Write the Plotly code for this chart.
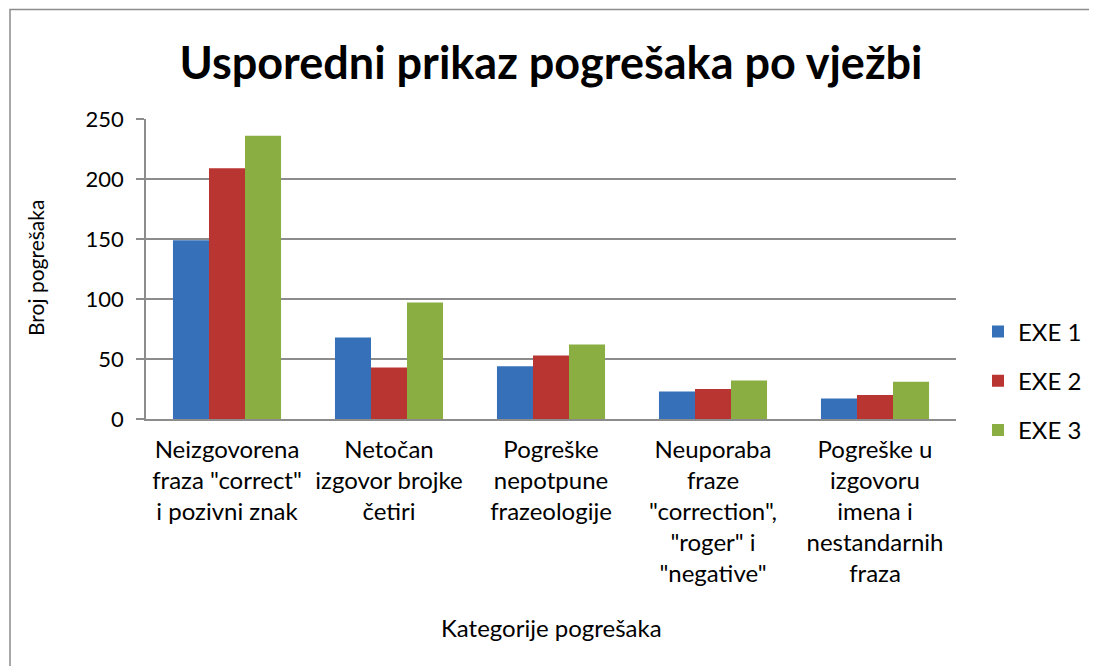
import plotly.graph_objects as go

categories = [
    "Neizgovorena<br>fraza \"correct\"<br>i pozivni znak",
    "Netočan<br>izgovor brojke<br>četiri",
    "Pogreške<br>nepotpune<br>frazeologije",
    "Neuporaba<br>fraze<br>\"correction\",<br>\"roger\" i<br>\"negative\"",
    "Pogreške u<br>izgovoru<br>imena i<br>nestandarnih<br>fraza",
]
exe1 = [149, 68, 44, 23, 17]
exe2 = [209, 43, 53, 25, 20]
exe3 = [236, 97, 62, 32, 31]
series_names = ["EXE 1", "EXE 2", "EXE 3"]
colors = ["#3570B8", "#B93532", "#8AAE41"]

FONT = "Lato"
W, H = 1097, 666
OFF = 8  # page body margin
# target plot area in screenshot pixels
L, R, T, B = 146, 956, 119, 419
l, t = L - OFF, T - OFF
pw, ph = R - L, B - T

def px(x):
    return (x - L) / pw
def py(y):
    return (B - y) / ph

fig = go.Figure()
for name, vals, c in zip(series_names, [exe1, exe2, exe3], colors):
    fig.add_trace(go.Bar(
        x=categories, y=vals, name=name, legendgroup=name,
        marker=dict(color=c, line=dict(width=0)),
    ))

fig.update_layout(
    width=W, height=H,
    margin=dict(l=l, r=W - l - pw, t=t, b=H - t - ph, pad=0),
    paper_bgcolor="white", plot_bgcolor="white",
    font=dict(family=FONT, size=24, color="#000000"),
    barmode="group", bargap=0.333, bargroupgap=0,
    title=dict(text="<b>Usporedni prikaz pogrešaka po vježbi</b>",
               x=0.5, xanchor="center", xref="paper",
               y=1 - (63 - OFF) / H, yanchor="middle",
               font=dict(family=FONT, size=45, color="#000000")),
    showlegend=True,
    legend=dict(x=px(978), xanchor="left", y=py(381), yanchor="middle",
                font=dict(family=FONT, size=24), tracegroupgap=15,
                itemwidth=30, bgcolor="rgba(0,0,0,0)"),
    xaxis=dict(
        showgrid=False, showline=True, linecolor="#8C8C8C", linewidth=1.5,
        ticks="", tickfont=dict(family=FONT, size=24),
        ticklabelstandoff=8,
    ),
    yaxis=dict(
        range=[0, 250], dtick=50, tick0=0,
        showgrid=True, gridcolor="#8C8C8C", gridwidth=1.5,
        showline=True, linecolor="#8C8C8C", linewidth=1.5,
        zeroline=False,
        ticks="outside", ticklen=8, tickcolor="#8C8C8C", tickwidth=1.5,
        tickfont=dict(family=FONT, size=22), ticklabelstandoff=8,
    ),
    annotations=[
        dict(text="Kategorije pogrešaka", xref="paper", yref="paper",
             x=0.5, y=py(627), xanchor="center", yanchor="middle",
             showarrow=False, font=dict(family=FONT, size=24)),
        dict(text="Broj pogrešaka", xref="paper", yref="paper",
             x=px(35), y=py(268), xanchor="center", yanchor="middle",
             textangle=-90, showarrow=False, font=dict(family=FONT, size=21)),
    ],
    shapes=[dict(type="rect", xref="paper", yref="paper",
                 x0=px(10), x1=px(1110), y0=py(680), y1=py(9.5),
                 line=dict(color="#8C8C8C", width=1.5), fillcolor="rgba(0,0,0,0)",
                 layer="below")],
)

fig.write_html("out.html")
